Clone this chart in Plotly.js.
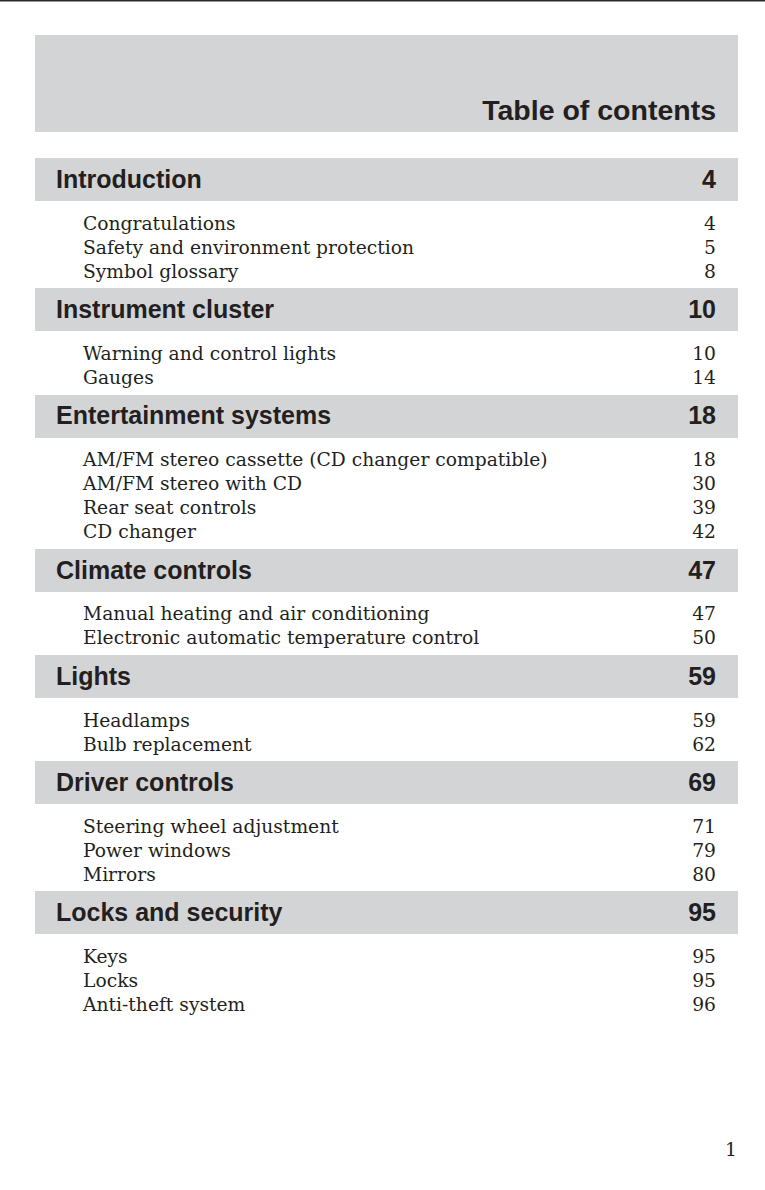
<!DOCTYPE html>
<html>
<head>
<meta charset="utf-8">
<script src="https://cdn.plot.ly/plotly-3.0.1.min.js"></script>
<style>
html,body{margin:0;padding:0;background:#fff;}
#chart{width:765px;height:1190px;}
</style>
</head>
<body>
<div id="chart"></div>
<script>
// ---- Data ----
var pageTitle = 'Table of contents';
var sections = ['Introduction', 'Instrument cluster', 'Entertainment systems', 'Climate controls', 'Lights', 'Driver controls', 'Locks and security'];
var sectionPages = ['4', '10', '18', '47', '59', '69', '95'];
var entryLabels = [
  'Congratulations', 'Safety and environment protection', 'Symbol glossary',
  'Warning and control lights', 'Gauges',
  'AM/FM stereo cassette (CD changer compatible)', 'AM/FM stereo with CD', 'Rear seat controls', 'CD changer',
  'Manual heating and air conditioning', 'Electronic automatic temperature control',
  'Headlamps', 'Bulb replacement',
  'Steering wheel adjustment', 'Power windows', 'Mirrors',
  'Keys', 'Locks', 'Anti-theft system'
];
var entryPages = ['4', '5', '8', '10', '14', '18', '30', '39', '42', '47', '50', '59', '62', '71', '79', '80', '95', '95', '96'];
var entrySection = [0, 0, 0, 1, 1, 2, 2, 2, 2, 3, 3, 4, 4, 5, 5, 5, 6, 6, 6];
var folio = '1';

// ---- Layout geometry (page units = pixels) ----
var W = 765, H = 1190;
var boxLeft = 35, boxRight = 738, textLeft = 56, entryLeft = 83, numRight = 716;
var headerTop = 35, headerBottom = 132;
var barH = 43, firstBarTop = 158, gapAfterBar = 22, lineStep = 23.9, gapBeforeBar = 17.4;
var textShift = 2.2;
var gray = '#d3d4d6', ink = '#231f20';

var barCenters = [], entryY = [];
var y = firstBarTop;
for (var s = 0; s < sections.length; s++) {
  barCenters.push(y + barH / 2);
  var n = 0;
  var lastY = y + barH;
  for (var e = 0; e < entryLabels.length; e++) {
    if (entrySection[e] === s) {
      var ey = y + barH + gapAfterBar + n * lineStep;
      entryY[e] = ey;
      lastY = ey;
      n++;
    }
  }
  y = lastY + gapBeforeBar;
}
var sectionTextY = barCenters.map(function(v){return v + textShift;});
var entryTextY = entryY.map(function(v){return v + textShift;});

var traces = [];
// header box
traces.push({
  type: 'bar', orientation: 'h',
  y: [(headerTop + headerBottom) / 2], x: [boxRight - boxLeft], base: [boxLeft],
  width: [headerBottom - headerTop],
  marker: {color: gray, line: {width: 0}}, hoverinfo: 'skip', showlegend: false
});
// section bars
traces.push({
  type: 'bar', orientation: 'h',
  y: barCenters, x: barCenters.map(function(){return boxRight - boxLeft;}),
  base: barCenters.map(function(){return boxLeft;}),
  width: barCenters.map(function(){return barH;}),
  marker: {color: gray, line: {width: 0}}, hoverinfo: 'skip', showlegend: false
});
// title
traces.push({
  type: 'scatter', mode: 'text', x: [numRight], y: [112.5], text: [pageTitle],
  textposition: 'middle left',
  textfont: {family: 'Liberation Sans, Arial, sans-serif', size: 28.5, color: ink, weight: 'bold'},
  hoverinfo: 'skip', showlegend: false, cliponaxis: false
});
// section titles
traces.push({
  type: 'scatter', mode: 'text', x: sections.map(function(){return textLeft;}), y: sectionTextY, text: sections,
  textposition: 'middle right',
  textfont: {family: 'Liberation Sans, Arial, sans-serif', size: 25, color: ink, weight: 'bold'},
  hoverinfo: 'skip', showlegend: false, cliponaxis: false
});
traces.push({
  type: 'scatter', mode: 'text', x: sectionPages.map(function(){return numRight;}), y: sectionTextY, text: sectionPages,
  textposition: 'middle left',
  textfont: {family: 'Liberation Sans, Arial, sans-serif', size: 25, color: ink, weight: 'bold'},
  hoverinfo: 'skip', showlegend: false, cliponaxis: false
});
// entries
traces.push({
  type: 'scatter', mode: 'text', x: entryLabels.map(function(){return entryLeft;}), y: entryTextY, text: entryLabels,
  textposition: 'middle right',
  textfont: {family: 'DejaVu Serif, serif', size: 18.7, color: ink},
  hoverinfo: 'skip', showlegend: false, cliponaxis: false
});
traces.push({
  type: 'scatter', mode: 'text', x: entryPages.map(function(){return numRight;}), y: entryTextY, text: entryPages,
  textposition: 'middle left',
  textfont: {family: 'DejaVu Serif, serif', size: 18.7, color: ink},
  hoverinfo: 'skip', showlegend: false, cliponaxis: false
});
// folio
traces.push({
  type: 'scatter', mode: 'text', x: [737], y: [1151], text: [folio],
  textposition: 'middle left',
  textfont: {family: 'DejaVu Serif, serif', size: 18.7, color: ink},
  hoverinfo: 'skip', showlegend: false, cliponaxis: false
});

var layout = {
  width: W, height: H,
  margin: {l: 0, r: 0, t: 0, b: 0, pad: 0},
  paper_bgcolor: '#ffffff', plot_bgcolor: '#ffffff',
  showlegend: false, barmode: 'overlay', bargap: 0,
  xaxis: {range: [0, W], visible: false, fixedrange: true},
  yaxis: {range: [H, 0], visible: false, fixedrange: true},
  shapes: [{type: 'line', xref: 'x', yref: 'y', x0: 0, x1: W, y0: 0.8, y1: 0.8, line: {color: '#2a2a2a', width: 1.6}}]
};

Plotly.newPlot('chart', traces, layout, {staticPlot: true, displayModeBar: false});
</script>
</body>
</html>
